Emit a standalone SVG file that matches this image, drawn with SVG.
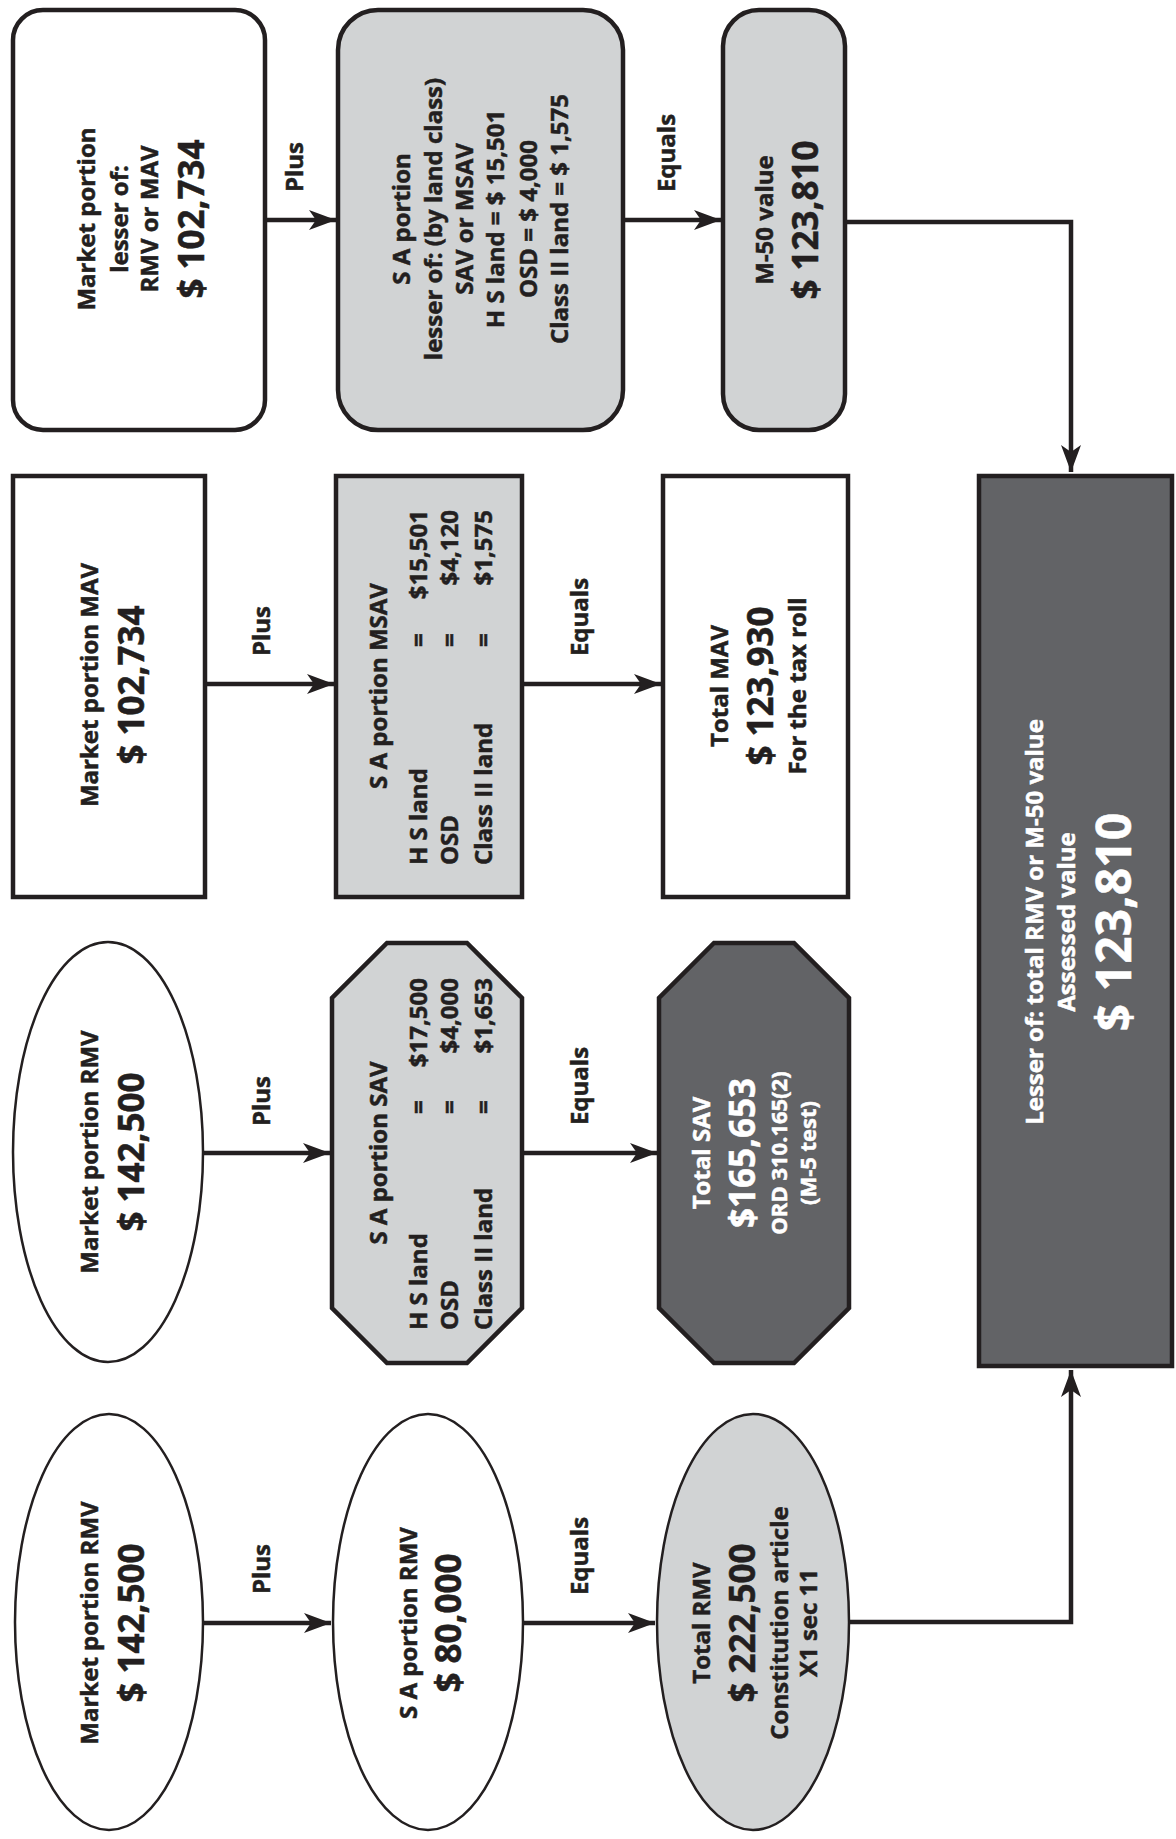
<svg xmlns="http://www.w3.org/2000/svg" width="1176" height="1839" viewBox="0 0 1176 1839">
<style>
text{font-family:"Open Sans","Liberation Sans",sans-serif;font-weight:700;fill:#231f20;stroke:#231f20;stroke-width:0.5;text-anchor:middle;dominant-baseline:central}
.w{fill:#ffffff;stroke:#ffffff}
.s{font-size:24px}
.m{font-size:35px}
.l{font-size:48px}
.st{text-anchor:start}
.en{text-anchor:end}
.box{stroke:#231f20;stroke-width:4.5}
.ell{stroke:#231f20;stroke-width:2.5}
.white{fill:#ffffff}
.gray{fill:#d1d3d4}
.dark{fill:#626366}
.con{fill:none;stroke:#231f20;stroke-width:4.5;marker-end:url(#arr)}
</style>
<defs>
<marker id="arr" markerUnits="userSpaceOnUse" markerWidth="30" markerHeight="24" viewBox="-28 -12 30 24" refX="0" refY="0" orient="auto">
<path d="M0,0 L-27,-10 L-20,0 L-27,10 Z" fill="#231f20"/>
</marker>
</defs>
<rect width="1176" height="1839" fill="#ffffff"/>

<g id="connectors">
<path class="con" d="M265,220 H336"/>
<path class="con" d="M623,220 H721"/>
<path class="con" d="M845,222 H1071 V472"/>
<path class="con" d="M205,684 H334"/>
<path class="con" d="M522,684 H661"/>
<path class="con" d="M203,1153 H330"/>
<path class="con" d="M522,1153 H657"/>
<path class="con" d="M203,1623 H331"/>
<path class="con" d="M522,1623 H655"/>
<path class="con" d="M849,1622 H1071 V1370"/>
<g id="labels">
<text class="s" transform="translate(293,167) rotate(-90)">Plus</text>
<text class="s" transform="translate(665,153) rotate(-90)">Equals</text>
<text class="s" transform="translate(260,631) rotate(-90)">Plus</text>
<text class="s" transform="translate(578,617) rotate(-90)">Equals</text>
<text class="s" transform="translate(260,1101) rotate(-90)">Plus</text>
<text class="s" transform="translate(578,1086) rotate(-90)">Equals</text>
<text class="s" transform="translate(260,1569) rotate(-90)">Plus</text>
<text class="s" transform="translate(578,1556) rotate(-90)">Equals</text>
</g>
</g>

<g id="market-lesser">
<rect class="box white" x="13" y="10" width="252" height="420" rx="30"/>
<g transform="translate(139,219) rotate(-90)">
<text class="s" y="-54">Market portion</text>
<text class="s" y="-21">lesser of:</text>
<text class="s" y="9">RMV or MAV</text>
<text class="m" y="51">$ 102,734</text>
</g>
</g>

<g id="sa-lesser">
<rect class="box gray" x="338" y="10" width="285" height="420" rx="40"/>
<g transform="translate(480,219) rotate(-90)">
<text class="s" y="-80">S A portion</text>
<text class="s" y="-48">lesser of: (by land class)</text>
<text class="s" y="-17">SAV or MSAV</text>
<text class="s" y="14">H S land = $ 15,501</text>
<text class="s" y="47">OSD = $ 4,000</text>
<text class="s" y="78">Class II land = $ 1,575</text>
</g>
</g>

<g id="m50">
<rect class="box gray" x="723" y="10" width="122" height="420" rx="36"/>
<g transform="translate(784,220) rotate(-90)">
<text class="s" y="-21">M-50 value</text>
<text class="m" y="20">$ 123,810</text>
</g>
</g>

<g id="market-mav">
<rect class="box white" x="13" y="476" width="192" height="421"/>
<g transform="translate(109,685) rotate(-90)">
<text class="s" y="-21">Market portion MAV</text>
<text class="m" y="21">$ 102,734</text>
</g>
</g>

<g id="sa-msav">
<rect class="box gray" x="336" y="476" width="186" height="421"/>
<g transform="translate(429,686) rotate(-90)">
<text class="s" y="-52">S A portion MSAV</text>
<text class="s st" x="-179" y="-12">H S land</text>
<text class="s" x="46" y="-12">=</text>
<text class="s en" x="176" y="-12">$15,501</text>
<text class="s st" x="-179" y="19">OSD</text>
<text class="s" x="46" y="19">=</text>
<text class="s en" x="176" y="19">$4,120</text>
<text class="s st" x="-179" y="53">Class II land</text>
<text class="s" x="46" y="53">=</text>
<text class="s en" x="176" y="53">$1,575</text>
</g>
</g>

<g id="total-mav">
<rect class="box white" x="663" y="476" width="185" height="421"/>
<g transform="translate(755,686) rotate(-90)">
<text class="s" y="-37">Total MAV</text>
<text class="m" y="4">$ 123,930</text>
<text class="s" y="41">For the tax roll</text>
</g>
</g>

<g id="assessed">
<rect class="box dark" x="979" y="476" width="193" height="890"/>
<g transform="translate(1075,922) rotate(-90)">
<text class="s w" y="-42">Lesser of: total RMV or M-50 value</text>
<text class="s w" y="-10">Assessed value</text>
<text class="l w" y="37">$ 123,810</text>
</g>
</g>

<g id="market-rmv-1">
<ellipse class="ell white" cx="108" cy="1152" rx="95" ry="210"/>
<g transform="translate(108,1152) rotate(-90)">
<text class="s" y="-20">Market portion RMV</text>
<text class="m" y="22">$ 142,500</text>
</g>
</g>

<g id="sa-sav">
<polygon class="box gray" points="387,943 467,943 522,998 522,1308 467,1363 387,1363 332,1308 332,998"/>
<g transform="translate(427,1153) rotate(-90)">
<text class="s" y="-50">S A portion SAV</text>
<text class="s st" x="-177" y="-10">H S land</text>
<text class="s" x="46" y="-10">=</text>
<text class="s en" x="175" y="-10">$17,500</text>
<text class="s st" x="-177" y="21">OSD</text>
<text class="s" x="46" y="21">=</text>
<text class="s en" x="175" y="21">$4,000</text>
<text class="s st" x="-177" y="55">Class II land</text>
<text class="s" x="46" y="55">=</text>
<text class="s en" x="175" y="55">$1,653</text>
</g>
</g>

<g id="total-sav">
<polygon class="box dark" points="714,943 794,943 849,998 849,1308 794,1363 714,1363 659,1308 659,998"/>
<g transform="translate(754,1153) rotate(-90)">
<text class="s w" y="-54">Total SAV</text>
<text class="m w" y="-13">$165,653</text>
<text class="s w" y="24" style="font-size:22px">ORD 310.165(2)</text>
<text class="s w" y="53" style="font-size:22px">(M-5 test)</text>
</g>
</g>

<g id="market-rmv-2">
<ellipse class="ell white" cx="109" cy="1622" rx="94" ry="208"/>
<g transform="translate(109,1623) rotate(-90)">
<text class="s" y="-21">Market portion RMV</text>
<text class="m" y="21">$ 142,500</text>
</g>
</g>

<g id="sa-rmv">
<ellipse class="ell white" cx="428" cy="1622" rx="95" ry="208"/>
<g transform="translate(428,1623) rotate(-90)">
<text class="s" y="-21">S A portion RMV</text>
<text class="m" y="19">$ 80,000</text>
</g>
</g>

<g id="total-rmv">
<ellipse class="ell gray" cx="753" cy="1622" rx="96" ry="208"/>
<g transform="translate(753,1623) rotate(-90)">
<text class="s" y="-53">Total RMV</text>
<text class="m" y="-12">$ 222,500</text>
<text class="s" y="25">Constitution article</text>
<text class="s" y="54">X1 sec 11</text>
</g>
</g>
</svg>
